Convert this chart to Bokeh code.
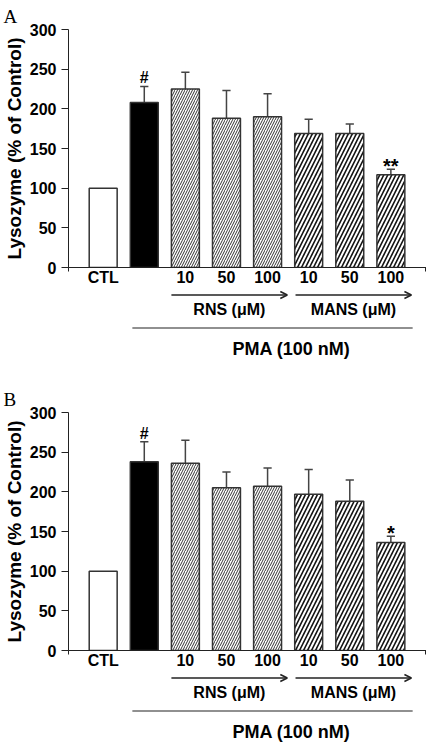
from bokeh.plotting import figure
from bokeh.layouts import column
from bokeh.models import Range1d, FixedTicker, Arrow, OpenHead, ColumnDataSource
from bokeh.core.properties import value
from bokeh.embed import file_html
from bokeh.resources import INLINE

# ---------------- data ----------------
groups = ["CTL", "PMA", "RNS 10", "RNS 50", "RNS 100", "MANS 10", "MANS 50", "MANS 100"]
tick_labels = ["CTL", "", "10", "50", "100", "10", "50", "100"]
a_means = [100, 208, 225, 188, 190, 169, 169, 117]
a_err = [0, 20, 21, 35, 29, 18, 12, 7]
a_marks = ["", "#", "", "", "", "", "", "**"]
b_means = [100, 238, 236, 205, 207, 197, 188, 136]
b_err = [0, 25, 29, 20, 23, 31, 27, 8]
b_marks = ["", "#", "", "", "", "", "", "*"]
y_ticks = [0, 50, 100, 150, 200, 250, 300]
ylabel = "Lysozyme (% of Control)"
rns_label = "RNS (\u03bcM)"
mans_label = "MANS (\u03bcM)"
pma_label = "PMA (100 nM)"

# ---------------- style ----------------
FONT = "Liberation Sans"
fills = ["white", "black", "white", "white", "white", "white", "white", "white"]
hatches = [" ", " ", "/", "/", "/", "/", "/", "/"]
hscale = [6, 6, 5, 5, 5, 8, 8, 8]
hweight = [1, 1, 1.0, 1.0, 1.0, 1.6, 1.6, 1.6]
hcolor = ["#222", "#222", "#333", "#333", "#333", "#111", "#111", "#111"]
mark_offset = {"#": 11, "*": 4, "**": 4}
BAR_W = 0.68
pos = list(range(1, len(groups) + 1))
X0, X1 = 0.156, 8.867


def main_panel(means, errs, marks, letter, top_border, height):
    p = figure(width=426, height=height, x_range=Range1d(X0, X1),
               y_range=Range1d(0, 300), output_backend="svg", toolbar_location=None,
               min_border_left=68, min_border_right=0,
               min_border_top=top_border, min_border_bottom=23)
    p.outline_line_color = None
    p.xgrid.visible = False
    p.ygrid.visible = False
    p.background_fill_color = "white"

    p.title.text = letter
    p.title.text_font = "Liberation Serif"
    p.title.text_font_style = "normal"
    p.title.text_font_size = "19px"
    p.title.text_color = "black"
    p.title.align = "left"
    p.title.offset = -65
    p.title.standoff = 6

    ay = p.yaxis[0]
    ay.ticker = FixedTicker(ticks=y_ticks)
    ay.axis_line_color = "#222"
    ay.major_tick_line_color = "#222"
    ay.major_tick_out = 7
    ay.major_tick_in = 0
    ay.minor_tick_line_color = None
    ay.major_label_text_font = FONT
    ay.major_label_text_font_style = "bold"
    ay.major_label_text_font_size = "16px"
    ay.major_label_text_color = "black"
    ay.major_label_standoff = 5
    ay.axis_label = ylabel
    ay.axis_label_text_font = FONT
    ay.axis_label_text_font_style = "bold"
    ay.axis_label_text_font_size = "19px"
    ay.axis_label_text_color = "black"
    ay.axis_label_standoff = 2

    ax = p.xaxis[0]
    ax.ticker = FixedTicker(ticks=pos, minor_ticks=[X0 + 0.005, X1 - 0.03])
    ax.major_label_overrides = {k: v for k, v in zip(pos, tick_labels)}
    ax.axis_line_color = "#222"
    ax.axis_line_width = 1.2
    ax.major_tick_line_color = None
    ax.major_tick_out = 0
    ax.major_tick_in = 0
    ax.minor_tick_line_color = "#222"
    ax.minor_tick_out = 4
    ax.minor_tick_in = 0
    ax.major_label_text_font = FONT
    ax.major_label_text_font_style = "bold"
    ax.major_label_text_font_size = "16px"
    ax.major_label_text_color = "black"
    ax.major_label_standoff = -3

    tops = [m + e for m, e in zip(means, errs)]
    src = ColumnDataSource(dict(x=pos, top=means, fill=fills, hatch=hatches,
                                hs=hscale, hw=hweight, hc=hcolor))

    # error bars (upper only)
    err_idx = [i for i in range(len(pos)) if errs[i] > 0]
    p.segment(x0=[pos[i] for i in err_idx], x1=[pos[i] for i in err_idx],
              y0=[means[i] for i in err_idx], y1=[tops[i] for i in err_idx],
              line_color="#444", line_width=1.5)
    p.segment(x0=[pos[i] - 0.1 for i in err_idx], x1=[pos[i] + 0.1 for i in err_idx],
              y0=[tops[i] for i in err_idx], y1=[tops[i] for i in err_idx],
              line_color="#444", line_width=1.5)

    p.vbar(x="x", top="top", bottom=0, width=BAR_W, source=src,
           fill_color="fill", line_color="#333", line_width=1.5,
           hatch_pattern="hatch", hatch_scale="hs", hatch_weight="hw", hatch_color="hc")

    # significance marks
    hx = [pos[i] for i in range(len(pos)) if marks[i] == "#"]
    hy = [tops[i] + mark_offset["#"] for i in range(len(pos)) if marks[i] == "#"]
    p.text(x=hx, y=hy, text=["#"] * len(hx),
           text_font=value(FONT), text_font_style="bold", text_font_size="16px",
           text_align="center", text_baseline="alphabetic", text_color="black")
    sidx = [i for i in range(len(pos)) if marks[i].startswith("*")]
    p.text(x=[pos[i] for i in sidx], y=[tops[i] + mark_offset[marks[i]] for i in sidx],
           text=[marks[i] for i in sidx],
           text_font=value(FONT), text_font_style="bold", text_font_size="20px",
           text_align="center", text_baseline="alphabetic", text_color="black")
    return p


def lower_panel(height, x_range):
    q = figure(width=426, height=height, x_range=x_range, y_range=Range1d(-height, 0),
               output_backend="svg", toolbar_location=None,
               x_axis_location=None, y_axis_location=None,
               min_border_left=68, min_border_right=0, min_border_top=0, min_border_bottom=0)
    q.outline_line_color = None
    q.xgrid.visible = False
    q.ygrid.visible = False

    rns_x0 = pos[2] - BAR_W / 2
    rns_x1 = pos[4] + BAR_W / 2 + 0.14
    mans_x0 = pos[5] - BAR_W / 2 + 0.02
    mans_x1 = pos[7] + BAR_W / 2 + 0.16
    for xa, xb in ((rns_x0, rns_x1), (mans_x0, mans_x1)):
        q.add_layout(Arrow(x_start=xa, y_start=-4.5, x_end=xb, y_end=-4.5,
                           line_color="#222", line_width=1.5,
                           end=OpenHead(size=7, line_width=1.5, line_color="#222")))
    q.text(x=[(rns_x0 + rns_x1) / 2, (mans_x0 + mans_x1) / 2], y=[-18.5, -18.5],
           text=[rns_label, mans_label], text_font=value(FONT), text_font_style="bold",
           text_font_size="16px", text_align="center", text_baseline="middle",
           text_color="black")
    q.segment(x0=[pos[1] - BAR_W / 2 + 0.05], x1=[pos[7] + BAR_W / 2 + 0.19],
              y0=[-37.5], y1=[-37.5], line_color="#222", line_width=1.2)
    q.text(x=[(pos[4] + pos[5]) / 2 + 0.08], y=[-58.5], text=[pma_label],
           text_font=value(FONT), text_font_style="bold", text_font_size="18px",
           text_align="center", text_baseline="middle", text_color="black")
    return q


pa = main_panel(a_means, a_err, a_marks, "A", 29, 290)
qa = lower_panel(81, pa.x_range)
pb = main_panel(b_means, b_err, b_marks, "B", 41, 302)
qb = lower_panel(69, pb.x_range)
layout = column(pa, qa, pb, qb)

open("out.html", "w").write(file_html(layout, INLINE))
